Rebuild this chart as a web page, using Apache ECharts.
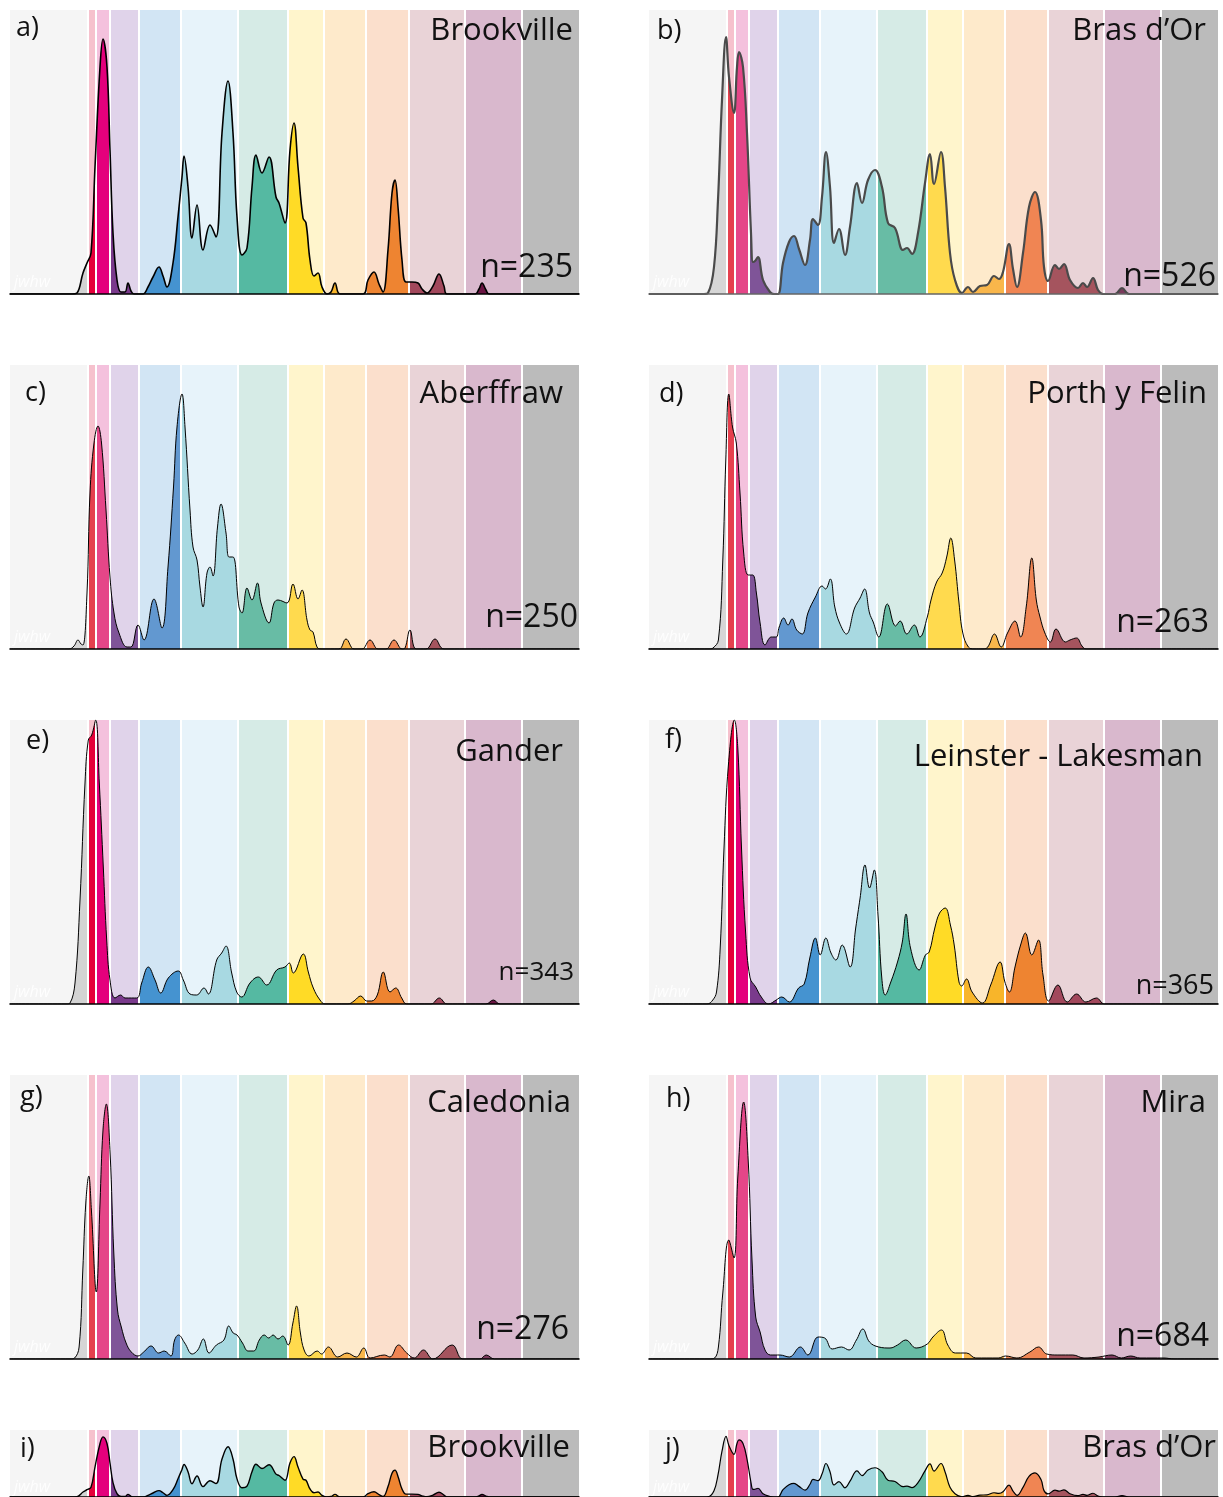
<!DOCTYPE html>
<html>
<head>
<meta charset="utf-8">
<title>Age spectra</title>
<script src="https://cdn.jsdelivr.net/npm/echarts@6/dist/echarts.min.js"></script>
<style>
html, body { margin: 0; padding: 0; background: #fff; }
#chart { width: 1223px; height: 1497px; }
</style>
</head>
<body>
<div id="chart"></div>
<script>
// band edges along the horizontal axis (same for every panel)
const bandEdges = [0, 78, 86, 100, 129, 171, 228, 278, 314, 356, 399, 455, 512, 569];
const bandBg = ['#f5f5f5', '#f6c1cd', '#f4c1dd', '#e0d3ea', '#d2e5f4', '#e7f3fa', '#d6ebe6',
  '#fff5cc', '#feeacb', '#fbdfcc', '#e9d3d7', '#d9b8cd', '#bbbbbb'];
const fillBright = ['#d3d3d3', '#e5003a', '#e4007c', '#7a3a8c', '#4593d0', '#a8d9e2', '#55b9a2',
  '#ffdb26', '#f8b52a', '#ee8431', '#a2485c', '#6a1442', '#8c8c8c'];
const fillSoft = ['#d6d6d6', '#e5404e', '#e54688', '#7f5498', '#6298d0', '#a8d9e1', '#68bca5',
  '#ffda4e', '#f9b64b', '#f08553', '#a5545e', '#7b3a5c', '#8c8c8c'];

// density curves, [x, height]
const brookville = [[0,0],[62,0],[67,1],[73,21],[77,31],[81,41],[85,127],[90,227],[93,255],[97,227],[100,144],[103,61],[107,14],[111,2],[115,2],[118,11],[121,3],[124,0],[133,0],[138,7],[143,17],[149,27],[153,18],[157,7],[163,31],[168,77],[172,117],[174,138],[178,107],[182,56],[187,89],[193,44],[200,69],[206,57],[212,161],[218,213],[223,161],[227,77],[232,39],[237,46],[242,107],[246,139],[252,121],[259,137],[266,97],[269,91],[275,71],[280,144],[284,171],[288,127],[293,76],[296,71],[300,34],[304,18],[308,21],[312,7],[317,0],[321,2],[325,11],[330,0],[353,0],[358,14],[364,22],[369,10],[373,2],[378,44],[382,101],[385,114],[388,87],[392,34],[396,12],[402,12],[408,11],[412,5],[417,1],[423,8],[429,20],[434,8],[437,0],[465,0],[469,5],[472,11],[476,4],[479,0],[569,0]];
const brasDOr = [[0,0],[55,0],[59,1],[65,27],[69,94],[73,194],[77,257],[80,217],[85,181],[88,227],[90,242],[94,227],[98,161],[102,61],[104,32],[106,33],[109,37],[114,14],[121,2],[125,0],[129,0],[134,31],[140,52],[145,58],[150,45],[156,29],[161,54],[164,75],[169,69],[173,97],[177,142],[181,107],[185,51],[190,65],[196,39],[201,67],[208,111],[213,91],[219,114],[226,124],[233,107],[239,71],[246,66],[254,44],[258,46],[263,40],[269,61],[276,111],[281,140],[285,110],[292,142],[296,107],[301,41],[306,14],[313,1],[319,7],[324,2],[331,8],[338,9],[345,18],[350,15],[354,22],[360,50],[364,25],[368,7],[374,41],[380,87],[386,102],[392,74],[395,27],[399,13],[406,29],[410,25],[415,30],[421,14],[429,6],[434,11],[438,7],[444,16],[449,4],[454,0],[466,0],[473,6],[480,0],[569,0]];
const aberffraw = [[0,0],[59,0],[64,3],[68,9],[71,5],[73,4],[77,56],[80,156],[84,206],[88,223],[91.5,206],[96,139],[100,72],[104,36],[109,16],[117,2],[121,2],[128,24],[134,9],[144,50],[152,21],[158,82],[163.5,162],[167,222],[172,255],[175,222],[180,139],[183,102],[187,89],[190,62],[193,42],[197,76],[200,82],[203,73],[207.5,122],[211,145],[216,116],[219,92],[223,92],[229,42],[232,36],[237,61],[242,49],[247.5,66],[251,46],[259,26],[264,46],[268,49],[277,46],[283,65],[288,50],[292,59],[297,29],[300,19],[303,17],[307,2],[311,0],[329,0],[336,10],[344,0],[352,0],[360,9],[368,0],[376,0],[384,9],[392,0],[395,1],[400,19],[406,0],[416,0],[425,10],[434,0],[569,0]];
const porthYFelin = [[0,0],[60,0],[64,1],[69.4,9],[73.8,89],[76.8,189],[79.8,255],[83.5,222],[87.3,206],[91,156],[94.7,96],[99.2,74],[103.7,74],[107.4,56],[111.1,26],[116,4],[122.3,12],[127.2,12],[130.2,22],[134.7,31],[139.1,24],[142.9,30],[147.7,19],[153.3,15],[158.9,36],[166.4,52],[173.1,63],[176.5,60],[181.3,70],[185.8,42],[190.6,26],[197.3,15],[205.6,41],[211.1,51],[215.6,60],[220.5,36],[224.2,27],[229.8,12],[238.4,45],[246.6,23],[251.1,28],[257.8,15],[265.3,24],[270.9,12],[278.3,32],[282,49],[287.6,67],[293.2,76],[297.7,92],[301.8,111],[305.6,89],[310,46],[313.8,16],[319.4,2],[325,0],[334,0],[338.8,2],[345.5,15],[352.2,2],[358.5,16],[366,28],[371.6,12],[377.2,42],[382.8,91],[387.3,49],[391,32],[395.9,16],[401.4,7],[407,20],[416.4,7],[421,9],[427.6,11],[433,3],[437,0],[569,0]];
const gander = [[0,0],[56,0],[60,1],[65,21],[70,104],[75,221],[78.3,264],[81.7,269],[85.7,284],[89.3,221],[93.3,137],[96.7,64],[100,24],[105,6],[110.7,9],[115,6],[126.7,6],[131.7,21],[138.3,37],[145,24],[150.7,11],[158.3,26],[168.3,33],[173.3,24],[180,10],[186.7,9],[194,16],[198.3,10],[206.7,44],[211.7,51],[216,58],[221.7,31],[226.7,12],[231.7,7],[240,21],[248.3,27],[256.7,19],[266.7,34],[275,37],[279.3,41],[283.3,31],[293.3,50],[298.3,32],[303.3,16],[310,4],[315,0],[338,0],[344,3],[350.7,8],[356.7,3],[361.7,3],[367.3,9],[373.3,32],[380,12],[385.7,16],[391.7,6],[396.7,0],[421,0],[429.3,6],[437,0],[476,0],[483.3,4],[490,0],[569,0]];
const leinster = [[0,0],[58,0],[63.8,4],[67.5,12],[71.2,56],[75,156],[79.4,239],[85.4,284],[88.8,256],[92.5,156],[96.6,72],[101.1,26],[106.7,17],[112.3,7],[119.7,0],[127.2,4],[132.8,7],[140.3,2],[149.6,16],[155.2,20],[160.8,46],[166.4,66],[171.2,49],[176.8,66],[182,51],[186.9,44],[193.2,59],[201.1,37],[206.7,76],[211.1,106],[216,139],[220.5,116],[225.3,134],[229,89],[232.8,26],[236.2,9],[241.8,22],[248.5,42],[253.3,62],[257,90],[261.5,56],[270.1,34],[276.4,49],[280.2,52],[285.8,76],[290.6,91],[296.2,96],[301.4,79],[305.2,59],[310,22],[312.6,18],[317.5,25],[323.1,12],[333.5,1],[341.7,19],[351.1,42],[355.9,22],[360.4,12],[366,37],[371.6,59],[376.4,71],[382.8,49],[389.5,64],[394,29],[399.6,3],[408.9,19],[418.2,2],[427.6,10],[436.9,2],[447.4,6],[455.6,0],[569,0]];
const caledonia = [[0,0],[60,0],[64.6,1],[69.1,12],[72.8,89],[75.8,156],[78.8,183],[81.4,149],[86.3,67],[90,156],[93,229],[96.3,255],[100.1,206],[103.8,106],[107.5,49],[111.3,32],[116.1,16],[121.3,7],[128,3],[133.7,7],[141.1,13],[148.6,6],[154.2,8],[160.9,3],[164.6,19],[168.4,24],[174.7,16],[182.2,5],[187.8,9],[193.4,20],[199,6],[206.4,14],[213.9,19],[218.7,33],[223.2,26],[227,24],[232.5,16],[238.1,8],[243.7,8],[249.3,19],[254.2,24],[258.7,21],[263.1,24],[268,20],[272.8,23],[278.1,14],[282.9,36],[286.6,53],[290.4,26],[294.1,9],[299,3],[307.2,8],[311.6,5],[318.4,12],[327.7,2],[337,6],[346.3,2],[353.8,11],[360.1,1],[374.3,4],[379.9,2],[388.5,14],[396.7,6],[404.2,1],[413.5,9],[422.8,0],[442.2,14],[452.7,0],[470,0],[476.2,4],[484.4,0],[569,0]];
const mira = [[0,0],[60,0],[65.6,1],[69.4,12],[73.8,66],[79.8,119],[85,101],[88.8,182],[94.7,257],[99.2,199],[103,99],[106.7,42],[111.1,27],[116,9],[121.6,4],[130.9,4],[140.3,2],[151.4,12],[158.9,4],[169,22],[175.7,21],[183.2,10],[192.5,12],[200,9],[207.4,19],[213.8,30],[220.5,17],[229.8,12],[241,11],[248.5,14],[256.7,19],[267.1,11],[278.3,15],[283.9,22],[292.5,29],[298.8,14],[306.3,6],[317.5,6],[326.8,1],[349.2,1],[356.7,3],[367.9,1],[380.9,7],[389.5,12],[397.7,5],[408.9,4],[423.8,4],[435,1],[450,2],[463,4],[472.3,1],[481.7,3],[491,1],[515,1],[525,0],[569,0]];

const FONT = '"Open Sans", "Noto Sans", sans-serif';

const panels = [
  { tag: 'a)', name: 'Brookville', n: 'n=235', data: brookville, left: 10, top: 10, h: 284, fill: fillBright, line: '#000', lw: 1.6, axis: '#000',
    tagAt: [16, 36], nameAt: [573, 40], nAt: [573, 277], nSize: 32 },
  { tag: 'b)', name: 'Bras d\u2019Or', n: 'n=526', data: brasDOr, left: 649, top: 10, h: 284, fill: fillSoft, line: '#4a4a4a', lw: 2.2, axis: '#666',
    tagAt: [657, 39], nameAt: [1206, 40], nAt: [1216, 286], nSize: 32 },
  { tag: 'c)', name: 'Aberffraw', n: 'n=250', data: aberffraw, left: 10, top: 365, h: 284, fill: fillSoft, line: '#000', lw: 1, axis: '#000',
    tagAt: [25, 401], nameAt: [563, 403], nAt: [578, 627], nSize: 32 },
  { tag: 'd)', name: 'Porth y Felin', n: 'n=263', data: porthYFelin, left: 649, top: 365, h: 284, fill: fillSoft, line: '#000', lw: 1, axis: '#000',
    tagAt: [659, 402], nameAt: [1207, 403], nAt: [1209, 632], nSize: 32 },
  { tag: 'e)', name: 'Gander', n: 'n=343', data: gander, left: 10, top: 720, h: 284, fill: fillBright, line: '#000', lw: 1, axis: '#000',
    tagAt: [26, 749], nameAt: [563, 761], nAt: [574, 980], nSize: 26 },
  { tag: 'f)', name: 'Leinster - Lakesman', n: 'n=365', data: leinster, left: 649, top: 720, h: 284, fill: fillBright, line: '#000', lw: 1, axis: '#000',
    tagAt: [665, 748], nameAt: [1203, 766], nAt: [1214, 994], nSize: 27 },
  { tag: 'g)', name: 'Caledonia', n: 'n=276', data: caledonia, left: 10, top: 1075, h: 284, fill: fillSoft, line: '#000', lw: 1, axis: '#000',
    tagAt: [20, 1105], nameAt: [571, 1112], nAt: [569, 1339], nSize: 32 },
  { tag: 'h)', name: 'Mira', n: 'n=684', data: mira, left: 649, top: 1075, h: 284, fill: fillSoft, line: '#000', lw: 1, axis: '#000',
    tagAt: [666, 1107], nameAt: [1206, 1112], nAt: [1209, 1346], nSize: 32 },
  { tag: 'i)', name: 'Brookville', n: '', data: brookville, left: 10, top: 1430, h: 69, fill: fillBright, line: '#000', lw: 1.4, axis: '#000',
    tagAt: [20, 1457], nameAt: [570, 1457] },
  { tag: 'j)', name: 'Bras d\u2019Or', n: '', data: brasDOr, left: 649, top: 1430, h: 69, fill: fillSoft, line: '#000', lw: 1.2, axis: '#000',
    tagAt: [665, 1457], nameAt: [1216, 1457] }
];

const YMAX = 284;
const BASE = 0.27; // baseline offset of middle-aligned text, in em

function bandRenderer(params, api) {
  const p0 = api.coord([api.value(0), YMAX]);
  const p1 = api.coord([api.value(1), 0]);
  return {
    type: 'rect',
    shape: { x: p0[0], y: p0[1], width: p1[0] - p0[0], height: p1[1] - p0[1] },
    style: { fill: bandBg[api.value(2)] }
  };
}

function sepRenderer(params, api) {
  const a = api.coord([api.value(0), 0]);
  const b = api.coord([api.value(0), YMAX]);
  return {
    type: 'line',
    shape: { x1: a[0], y1: a[1], x2: b[0], y2: b[1] },
    style: { stroke: '#ffffff', lineWidth: 2 }
  };
}

const bandData = bandEdges.slice(0, -1).map((e, i) => [e, bandEdges[i + 1], i]);
const sepData = bandEdges.slice(1, -1).map(e => [e]);

const grid = [], xAxis = [], yAxis = [], series = [], visualMap = [], graphic = [];

panels.forEach((p, k) => {
  grid.push({ left: p.left, top: p.top, width: 569, height: p.h });
  xAxis.push({
    gridIndex: k, type: 'value', min: 0, max: 569, z: 10,
    axisLine: { show: true, onZero: false, lineStyle: { color: p.axis, width: 1.6 } },
    axisTick: { show: false }, axisLabel: { show: false }, splitLine: { show: false }
  });
  yAxis.push({ gridIndex: k, type: 'value', min: 0, max: YMAX, show: false });

  series.push({
    type: 'custom', xAxisIndex: k, yAxisIndex: k, renderItem: bandRenderer,
    data: bandData, encode: { x: [0, 1] }, silent: true, z: 1
  });
  series.push({
    type: 'line', xAxisIndex: k, yAxisIndex: k, data: p.data,
    smooth: 0.4, symbol: 'none', lineStyle: { width: 0 }, areaStyle: { opacity: 1 },
    silent: true, z: 2
  });
  series.push({
    type: 'custom', xAxisIndex: k, yAxisIndex: k, renderItem: sepRenderer,
    data: sepData, encode: { x: 0 }, silent: true, z: 3
  });
  series.push({
    type: 'line', xAxisIndex: k, yAxisIndex: k, data: p.data,
    smooth: 0.4, symbol: 'none', lineStyle: { color: p.line, width: p.lw },
    silent: true, z: 4
  });

  visualMap.push({
    type: 'piecewise', show: false, seriesIndex: 4 * k + 1, dimension: 0,
    pieces: bandEdges.slice(0, -1).map((e, i) => ({
      gte: e, lt: i === bandEdges.length - 2 ? 10000 : bandEdges[i + 1], color: p.fill[i]
    }))
  });

  // faint watermark at the lower left
  graphic.push({
    type: 'text', x: p.left + 4, y: p.top + p.h - 12, z: 50,
    style: { text: 'jwhw', font: 'italic 16px ' + FONT, fill: 'rgba(255,255,255,0.85)', align: 'left', verticalAlign: 'middle' }
  });
  graphic.push({
    type: 'text', x: p.tagAt[0], y: p.tagAt[1] - BASE * 27, z: 100,
    style: { text: p.tag, font: '27px ' + FONT, fill: '#111', align: 'left', verticalAlign: 'middle' }
  });
  graphic.push({
    type: 'text', x: p.nameAt[0], y: p.nameAt[1] - BASE * 31, z: 100,
    style: { text: p.name, font: '31px ' + FONT, fill: '#111', align: 'right', verticalAlign: 'middle' }
  });
  if (p.n) {
    graphic.push({
      type: 'text', x: p.nAt[0], y: p.nAt[1] - BASE * p.nSize, z: 100,
      style: { text: p.n, font: p.nSize + 'px ' + FONT, fill: '#111', align: 'right', verticalAlign: 'middle' }
    });
  }
});

const myChart = echarts.init(document.getElementById('chart'));
myChart.setOption({
  backgroundColor: '#ffffff',
  animation: false,
  grid, xAxis, yAxis, visualMap, series, graphic
});
</script>
</body>
</html>
